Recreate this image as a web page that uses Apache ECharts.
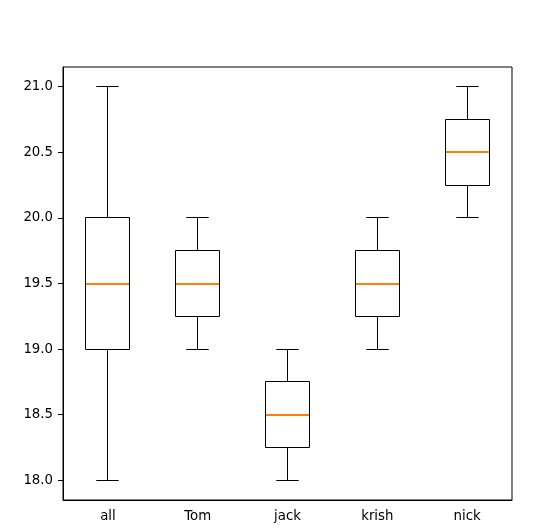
<!DOCTYPE html>
<html>
<head>
<meta charset="utf-8">
<script src="https://cdn.jsdelivr.net/npm/echarts@6/dist/echarts.min.js"></script>
<style>
  html, body { margin: 0; padding: 0; background: #fff; }
  #chart { width: 545px; height: 532px; }
</style>
</head>
<body>
<div id="chart"></div>
<script>
// box stats
var categories = ["all", "Tom", "jack", "krish", "nick"];
var whiskerLow = [18.0, 19.0, 18.0, 19.0, 20.0];
var q1 = [19.0, 19.25, 18.25, 19.25, 20.25];
var median = [19.5, 19.5, 18.5, 19.5, 20.5];
var q3 = [20.0, 19.75, 18.75, 19.75, 20.75];
var whiskerHigh = [21.0, 20.0, 19.0, 20.0, 21.0];

var boxData = categories.map(function (c, i) {
  return [i, whiskerLow[i], q1[i], median[i], q3[i], whiskerHigh[i]];
});

var fontFam = "DejaVu Sans";

// keep 1px lines on pixel centres so they stay sharp
function crisp(v) {
  return Math.round(v - 0.5) + 0.5;
}

function renderBox(params, api) {
  var i = api.value(0);
  var band = api.size([1, 0])[0];
  var half = band * 0.25;
  var capHalf = band * 0.125;
  var x = crisp(api.coord([i, api.value(3)])[0]);
  var yLow = crisp(api.coord([i, api.value(1)])[1]);
  var yQ1 = crisp(api.coord([i, api.value(2)])[1]);
  var yMed = Math.round(api.coord([i, api.value(3)])[1]);
  var yQ3 = crisp(api.coord([i, api.value(4)])[1]);
  var yHigh = crisp(api.coord([i, api.value(5)])[1]);
  var left = crisp(x - half);
  var right = crisp(x + half);
  var line = {stroke: "#000", lineWidth: 1};
  return {
    type: "group",
    children: [
      {type: "line", shape: {x1: x, y1: yQ1, x2: x, y2: yLow}, style: line},
      {type: "line", shape: {x1: x, y1: yQ3, x2: x, y2: yHigh}, style: line},
      {type: "line", shape: {x1: x - capHalf, y1: yLow, x2: x + capHalf, y2: yLow}, style: line},
      {type: "line", shape: {x1: x - capHalf, y1: yHigh, x2: x + capHalf, y2: yHigh}, style: line},
      {type: "rect", shape: {x: left, y: yQ3, width: right - left, height: yQ1 - yQ3},
        style: {fill: "none", stroke: "#000", lineWidth: 1}},
      {type: "line", shape: {x1: left + 0.5, y1: yMed, x2: right - 0.5, y2: yMed},
        style: {stroke: "#ff7f0e", lineWidth: 2}}
    ]
  };
}

var myChart = echarts.init(document.getElementById("chart"));
myChart.setOption({
  animation: false,
  grid: {
    left: 63,
    right: 33,
    top: 67,
    bottom: 32,
    show: true,
    borderColor: "#000",
    borderWidth: 1,
    backgroundColor: "transparent",
  },
  xAxis: {
    type: "category",
    data: categories,
    boundaryGap: true,
    axisLine: {lineStyle: {color: "#000", width: 1}},
    axisTick: {alignWithLabel: true, length: 5, lineStyle: {color: "#000"}},
    axisLabel: {color: "#000", fontSize: 13.3, fontFamily: fontFam, margin: 10},
    splitLine: {show: false},
  },
  yAxis: {
    type: "value",
    min: 17.85,
    max: 21.15,
    splitNumber: 5,
    axisLine: {show: true, lineStyle: {color: "#000", width: 1}},
    axisTick: {show: true, length: 5, lineStyle: {color: "#000"}},
    axisLabel: {
      color: "#000",
      fontSize: 13.3,
      fontFamily: fontFam,
      margin: 10,
      showMinLabel: false,
      showMaxLabel: false,
      formatter: function (v) { return v.toFixed(1); },
    },
    splitLine: {show: false},
  },
  series: [
    {
      type: "custom",
      renderItem: renderBox,
      data: boxData,
      encode: {x: 0, y: [1, 2, 3, 4, 5]},
    },
  ],
});
</script>
</body>
</html>
